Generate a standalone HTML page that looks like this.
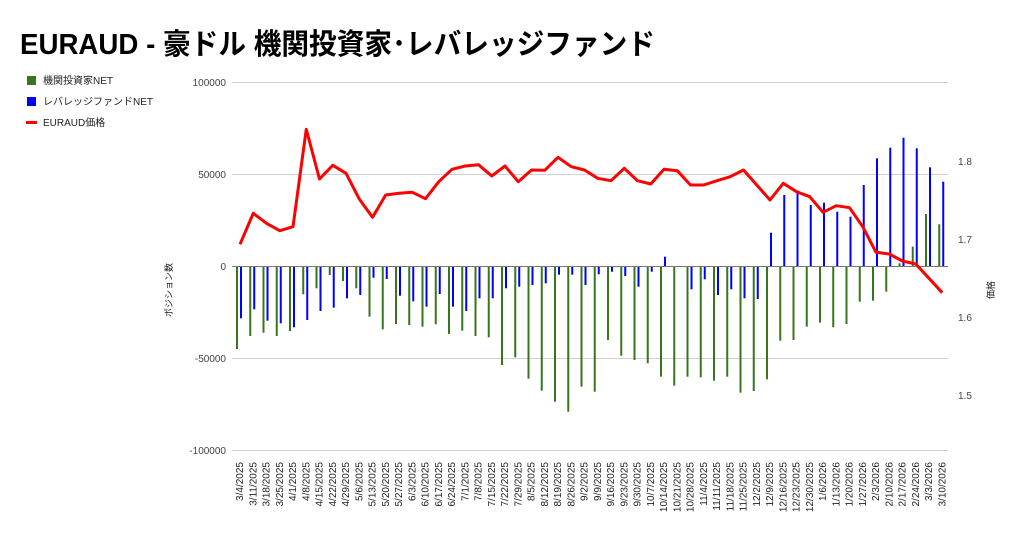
<!DOCTYPE html>
<html><head><meta charset="utf-8">
<style>
body{margin:0;background:#fff;width:1024px;height:532px;overflow:hidden;font-family:"Liberation Sans","Noto Sans CJK JP",sans-serif;}
svg text{font-family:"Liberation Sans","Noto Sans CJK JP",sans-serif;}
</style></head><body>
<svg id="c" width="1024" height="532" xmlns="http://www.w3.org/2000/svg">
<text x="20" y="54" font-size="29" font-weight="bold" fill="#000" textLength="635" lengthAdjust="spacingAndGlyphs">EURAUD - 豪ドル 機関投資家･レバレッジファンド</text>
<rect x="27" y="76" width="9" height="9" fill="#38761d"/>
<text x="43" y="84" font-size="10" fill="#222">機関投資家NET</text>
<rect x="27" y="97" width="9" height="9" fill="#0000ff"/>
<text x="43" y="105" font-size="10" fill="#222">レバレッジファンドNET</text>
<rect x="26" y="121" width="11" height="3" fill="#ff0000"/>
<text x="43" y="126" font-size="10" fill="#222">EURAUD価格</text>
<g font-size="10" fill="#444" text-anchor="end">
<text x="226" y="86">100000</text>
<text x="226" y="178">50000</text>
<text x="226" y="270">0</text>
<text x="226" y="362">-50000</text>
<text x="226" y="454">-100000</text>
</g>
<g stroke="#d0d0d0" stroke-width="1">
<line x1="232" x2="948" y1="82.5" y2="82.5"/>
<line x1="232" x2="948" y1="174.5" y2="174.5"/>
<line x1="232" x2="948" y1="358.5" y2="358.5"/>
<line x1="232" x2="948" y1="450.5" y2="450.5"/>
</g>
<g font-size="10" fill="#444">
<text x="958" y="165">1.8</text>
<text x="958" y="243">1.7</text>
<text x="958" y="321">1.6</text>
<text x="958" y="399">1.5</text>
</g>
<text font-size="9" fill="#222" text-anchor="middle" transform="translate(172,290) rotate(-90)">ポジション数</text>
<text font-size="9" fill="#222" text-anchor="middle" transform="translate(994,290) rotate(-90)">価格</text>
<g id="bars"></g>
<line x1="232" x2="948" y1="266.5" y2="266.5" stroke="#777" stroke-width="1"/>
<g id="line"></g>
<g id="xl" font-size="10" fill="#222" text-anchor="end"></g>
</svg>
<script>
var g=[349,336,332.7,336,331,294.3,288.3,275,281,288.3,316.7,329.3,324,325,326.7,324.3,334,330.7,336,337.3,365,357.3,378.7,390.7,401.7,411.7,386.7,391.7,340,355.7,360,363.3,376.7,385.7,376.7,377.3,380.7,376.7,392.7,391,379.3,340.7,340,326.7,322.7,327.3,324,301.7,300.7,291.7,263.3,246.7,214,224.3];
var b=[318.3,309.3,320.7,323.3,327.3,320,311,307.7,298.3,295,277.7,279,295.7,301.3,306.7,294,306.7,311,298.3,298.3,288.3,286.7,285,283.3,274.7,274.7,285,274.3,271.7,276,286.7,271.7,256.7,266,289.3,279.3,295,289.3,298.3,299,232.7,195,190.7,205,202.7,211.7,216.7,185,158.3,147.7,137.7,148.3,167.3,181.7];
var r=[244.3,213.3,223.3,230.7,226.7,129.3,179,165.3,173.3,199,217.3,195,193.3,192.3,198.7,181.7,169.3,166,164.7,176,166,181.7,170,170.3,157.3,166.7,170,178.3,180.7,168.3,180.7,184,169.3,170.7,185,185,180.7,176.7,170,185,200,183.3,191.7,196.7,212.3,205.7,207.7,226.7,252.3,254,261,264,278.3,292.7];
var ns="http://www.w3.org/2000/svg",Z=266;
var B=document.getElementById('bars'),L=document.getElementById('line'),X=document.getElementById('xl');
function rect(x,y1,y2,c){var e=document.createElementNS(ns,'rect');e.setAttribute('x',x);e.setAttribute('y',Math.min(y1,y2));e.setAttribute('width',2);e.setAttribute('height',Math.max(0.5,Math.abs(y2-y1)));e.setAttribute('fill',c);B.appendChild(e);}
var pts=[];
var d=new Date(2025,2,4);
for(var i=0;i<54;i++){
 var cx=239+13.25*i;
 rect(cx-3,Z,g[i],'#38761d');
 rect(cx+1,Z,b[i],'#0000ff');
 pts.push((cx+1)+','+r[i]);
 var dd=new Date(d.getTime()+i*7*86400000);
 var t=document.createElementNS(ns,'text');
 t.setAttribute('transform','translate('+(cx+4)+',462) rotate(-90)');
 t.textContent=(dd.getMonth()+1)+'/'+dd.getDate()+'/'+dd.getFullYear();
 X.appendChild(t);
}
var p=document.createElementNS(ns,'polyline');
p.setAttribute('points',pts.join(' '));p.setAttribute('fill','none');p.setAttribute('stroke','#ff0000');p.setAttribute('stroke-width','3');p.setAttribute('stroke-linejoin','round');
L.appendChild(p);
</script>
</body></html>
